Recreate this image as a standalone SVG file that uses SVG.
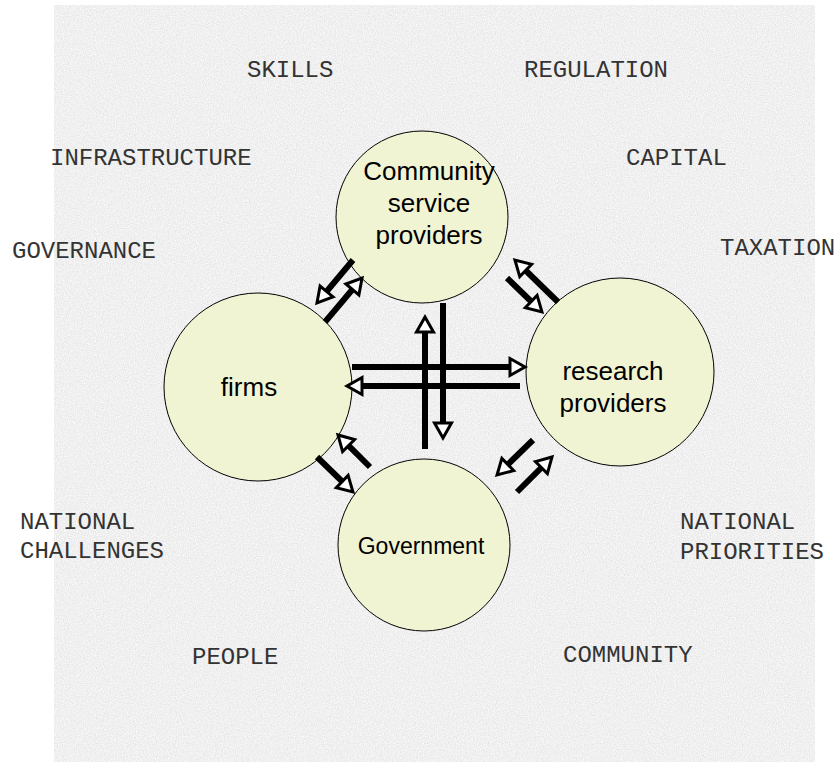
<svg xmlns="http://www.w3.org/2000/svg" width="835" height="762" viewBox="0 0 835 762">
<defs>
<filter id="noise" x="0" y="0" width="100%" height="100%" filterUnits="objectBoundingBox">
<feTurbulence type="fractalNoise" baseFrequency="0.85" numOctaves="2" seed="4" result="n"/>
<feColorMatrix in="n" type="matrix" values="0.3 0 0 0 0.72  0.3 0 0 0 0.72  0.3 0 0 0 0.72  0 0 0 0 1"/>
</filter>
<marker id="head" markerUnits="userSpaceOnUse" markerWidth="24" markerHeight="24" viewBox="-3 -12 22 24" refX="0" refY="0" orient="auto" overflow="visible">
<path d="M0,-8.5 L15,0 L0,8.5 Z" fill="#ffffff" stroke="#000000" stroke-width="3" stroke-linejoin="miter"/>
</marker>
<style>
.node{fill:#f1f4d3;stroke:#000000;stroke-width:1}
.lbl{font-family:"Liberation Sans",Arial,sans-serif;font-size:26px;fill:#000000;text-anchor:middle}
.out{font-family:"Liberation Mono","Courier New",monospace;font-size:24px;fill:#333333}
.arr{stroke:#000000;stroke-width:6;fill:none;marker-end:url(#head)}
</style>
</defs>
<rect x="0" y="0" width="835" height="762" fill="#ffffff"/>
<rect x="54" y="5" width="761" height="757" fill="#e4e4e4" filter="url(#noise)"/>
<g id="outer-labels">
<text class="out" x="247" y="77">SKILLS</text>
<text class="out" x="524" y="77">REGULATION</text>
<text class="out" x="50" y="165">INFRASTRUCTURE</text>
<text class="out" x="626" y="165">CAPITAL</text>
<text class="out" x="12" y="258">GOVERNANCE</text>
<text class="out" x="720" y="255">TAXATION</text>
<text class="out" x="20" y="529">NATIONAL</text>
<text class="out" x="20" y="558">CHALLENGES</text>
<text class="out" x="680" y="529">NATIONAL</text>
<text class="out" x="680" y="559">PRIORITIES</text>
<text class="out" x="192" y="664">PEOPLE</text>
<text class="out" x="563" y="662">COMMUNITY</text>
</g>
<g id="node-community">
<circle class="node" cx="422" cy="217" r="86"/>
<text class="lbl" x="429" y="180">Community</text>
<text class="lbl" x="429" y="212">service</text>
<text class="lbl" x="429" y="244">providers</text>
</g>
<g id="node-firms">
<circle class="node" cx="258" cy="387" r="94"/>
<text class="lbl" x="249" y="396">firms</text>
</g>
<g id="node-research">
<circle class="node" cx="620" cy="372" r="94"/>
<text class="lbl" x="613" y="380">research</text>
<text class="lbl" x="613" y="412">providers</text>
</g>
<g id="node-government">
<circle class="node" cx="424" cy="545" r="86"/>
<text class="lbl" x="421" y="554" style="font-size:23px">Government</text>
</g>
<g id="connectors">
<line class="arr" x1="353" y1="260" x2="326.6" y2="291.5"/>
<line class="arr" x1="325" y1="322" x2="352.4" y2="289.5"/>
<line class="arr" x1="558" y1="302" x2="525.7" y2="270.5"/>
<line class="arr" x1="507" y1="278" x2="531.2" y2="301.5"/>
<line class="arr" x1="370" y1="467" x2="348.6" y2="445.6"/>
<line class="arr" x1="317" y1="457" x2="342.2" y2="481.5"/>
<line class="arr" x1="533" y1="440" x2="507.8" y2="464.5"/>
<line class="arr" x1="517" y1="492" x2="541.4" y2="467.6"/>
<line class="arr" x1="443" y1="303" x2="443" y2="423"/>
<line class="arr" x1="425" y1="449" x2="425" y2="332"/>
<line class="arr" x1="352" y1="367" x2="510" y2="367"/>
<line class="arr" x1="520" y1="386" x2="362" y2="386"/>
</g>
</svg>
